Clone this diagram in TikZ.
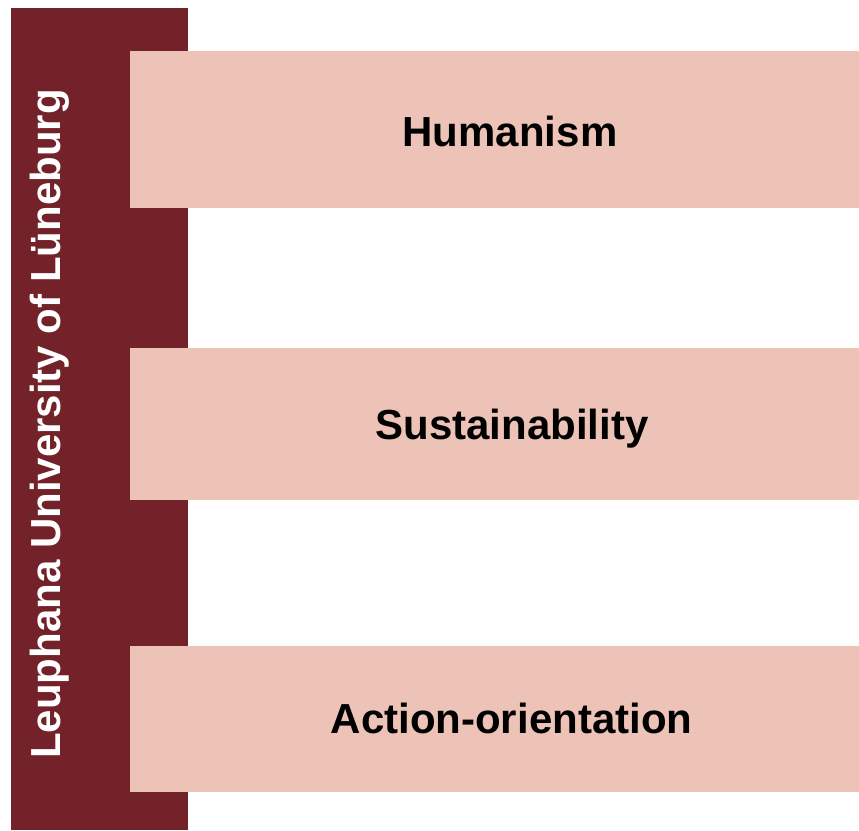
\documentclass[tikz,border=0pt]{standalone}
\usepackage{fontspec}
\setmainfont{Liberation Sans}
\definecolor{barred}{HTML}{74222A}
\definecolor{boxpink}{HTML}{EDC2B7}
\begin{document}
\begin{tikzpicture}[x=1pt,y=1pt,
  bar/.style={fill=barred,draw=none,inner sep=0pt,outer sep=0pt},
  pinkbox/.style={fill=boxpink,draw=none,inner sep=0pt,outer sep=0pt,minimum width=729pt},
  lbl/.style={font=\fontsize{42}{50}\selectfont\bfseries,text=black,inner sep=0pt,anchor=base},
  vlbl/.style={font=\fontsize{42}{50}\selectfont\bfseries,text=white,inner sep=0pt,anchor=base,rotate=90}]
\useasboundingbox (0,0) rectangle (859,830);
\fill[white] (0,0) rectangle (859,830);
\node[bar,minimum width=177pt,minimum height=822pt] (uni) at (99.5,411) {};
\node[pinkbox,minimum height=157pt] (hum) at (494.5,700.5) {};
\node[pinkbox,minimum height=152pt] (sus) at (494.5,406) {};
\node[pinkbox,minimum height=146pt] (act) at (494.5,111) {};
\node[vlbl] (unit) at (60,406) {Leuphana University of Lüneburg};
\node[lbl] (humt) at (510,683) {Humanism};
\node[lbl] (sust) at (512,390) {Sustainability};
\node[lbl] (actt) at (511.5,96) {Action-orientation};
\end{tikzpicture}
\end{document}
